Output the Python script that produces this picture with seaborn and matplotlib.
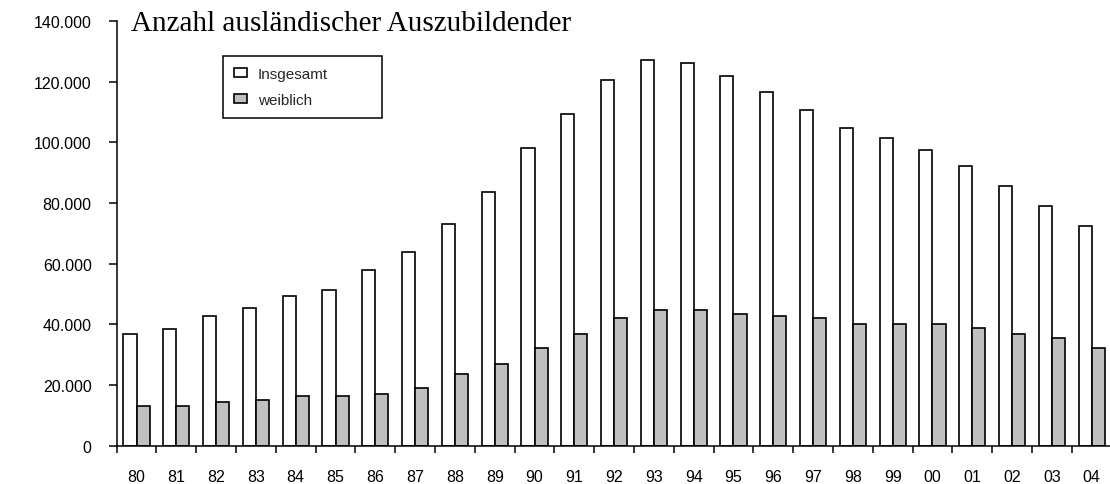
import numpy as np
import pandas as pd
import seaborn as sns
import matplotlib.pyplot as plt
from matplotlib.ticker import FuncFormatter


years = ["80", "81", "82", "83", "84", "85", "86", "87", "88", "89", "90", "91",
         "92", "93", "94", "95", "96", "97", "98", "99", "00", "01", "02", "03", "04"]
insgesamt = [36700, 38600, 42600, 45400, 49300, 51400, 58000, 64000, 73200, 83500,
             98000, 109300, 120500, 127000, 126300, 121800, 116500, 110600, 104600,
             101400, 97400, 92100, 85500, 78900, 72300]
weiblich = [13100, 13100, 14400, 15100, 16400, 16400, 17000, 19000, 23600, 26900,
            32100, 36700, 42000, 44600, 44600, 43300, 42600, 42000, 40000, 40000,
            40000, 38700, 36800, 35600, 32300]
series = ["Insgesamt", "weiblich"]
yticks = [0, 20000, 40000, 60000, 80000, 100000, 120000, 140000]
title = "Anzahl ausländischer Auszubildender"

df = pd.concat([
    pd.DataFrame({"Jahr": years, "Anzahl": insgesamt, "Gruppe": series[0]}),
    pd.DataFrame({"Jahr": years, "Anzahl": weiblich, "Gruppe": series[1]}),
])

sns.set_theme(style="ticks")
plt.rcParams["font.family"] = ["Liberation Sans", "DejaVu Sans"]

fig = plt.figure(figsize=(11.1, 4.85), dpi=100)
ax = fig.add_axes([0.1051, 0.079, 0.8963, 0.8757])

sns.barplot(data=df, x="Jahr", y="Anzahl", hue="Gruppe", order=years,
            hue_order=series, palette={"Insgesamt": "white", "weiblich": "#C0C0C0"},
            saturation=1, width=0.66, edgecolor="black", linewidth=1.2, ax=ax)

ax.set_xlim(-0.5, len(years) - 0.5)
ax.set_ylim(0, 140000)
ax.set_yticks(yticks)
ax.yaxis.set_major_formatter(FuncFormatter(lambda v, p: f"{v:,.0f}".replace(",", ".")))
ax.set_xticks(np.arange(-0.5, len(years), 1), minor=True)
ax.set_xlabel("")
ax.set_ylabel("")

ax.tick_params(axis="x", which="major", length=0, pad=16.5, labelsize=11.5, colors="black")
ax.tick_params(axis="x", which="minor", length=5, width=1.1, color="black", direction="out")
ax.tick_params(axis="y", length=6, width=1.1, pad=12, labelsize=11.5, colors="black",
               direction="out")

sns.despine(ax=ax)
for side in ["left", "bottom"]:
    ax.spines[side].set_color("black")
    ax.spines[side].set_linewidth(1.1)

handles, labels = ax.get_legend_handles_labels()
leg = ax.legend(handles, labels, loc="upper left", mode="expand",
                bbox_to_anchor=(0.2006, 0.7594, 0.1432, 0.1237),
                bbox_transform=fig.transFigure, borderaxespad=0,
                fontsize=11, frameon=True, fancybox=False, edgecolor="black",
                framealpha=1, borderpad=0.75, labelspacing=0.75,
                handlelength=0.85, handleheight=0.55, handletextpad=0.7)
leg.get_frame().set_linewidth(1.1)

fig.text(0.118, 0.936, title, family=["Liberation Serif", "DejaVu Serif"],
         fontsize=21, va="baseline", ha="left", color="black")

fig.savefig("out.png", dpi=100)
